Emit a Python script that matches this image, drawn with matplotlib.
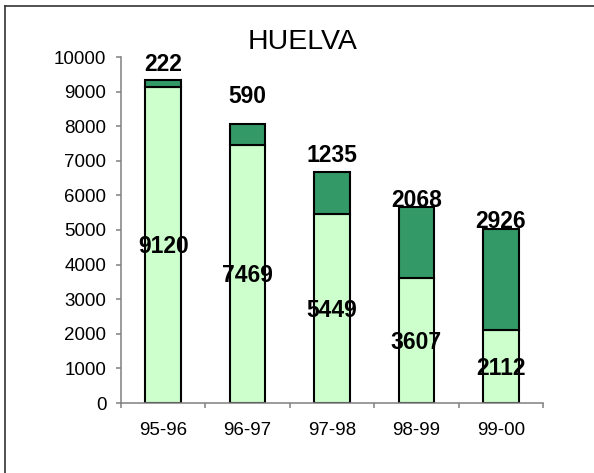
import numpy as np
import matplotlib
matplotlib.use("Agg")
import matplotlib.pyplot as plt
from matplotlib.lines import Line2D

plt.rcParams["font.family"] = ["Liberation Sans", "DejaVu Sans"]

# data
seasons = ["95-96", "96-97", "97-98", "98-99", "99-00"]
lower_vals = [9120, 7469, 5449, 3607, 2112]
upper_vals = [222, 590, 1235, 2068, 2926]
# label lift above bar top (points)
upper_label_lift = [6.5, 15, 7, -0.5, 0.5]

LIGHT = "#CCFFCC"
DARK = "#339966"
AXIS_GREY = "#808080"

fig = plt.figure(figsize=(5.94, 4.73), dpi=100)
ax = fig.add_axes([121 / 594, 1 - 403 / 473, 422 / 594, 346 / 473])

x = np.arange(len(seasons))
lower = np.array(lower_vals)
upper = np.array(upper_vals)

ax.bar(x, lower, width=0.42, color=LIGHT, edgecolor="black", linewidth=1.5, zorder=2)
ax.bar(x, upper, width=0.42, bottom=lower, color=DARK, edgecolor="black",
       linewidth=1.5, zorder=2)

for xi, lo, up, lift in zip(x, lower, upper, upper_label_lift):
    ax.annotate(str(lo), (xi, lo / 2), xytext=(0, -5.9), textcoords="offset points",
                ha="center", va="baseline", fontsize=16.5, fontweight="bold", zorder=3)
    ax.annotate(str(up), (xi, lo + up), xytext=(0, lift), textcoords="offset points",
                ha="center", va="baseline", fontsize=16.5, fontweight="bold", zorder=3,
                annotation_clip=False)

ax.set_xlim(-0.5, len(seasons) - 0.5)
ax.set_ylim(0, 10000)
ax.set_yticks(np.arange(0, 10001, 1000))
ax.set_xticks(x)
ax.set_xticklabels(seasons)
ax.set_xticks(np.arange(-0.5, len(seasons), 1.0), minor=True)

for side in ["top", "right"]:
    ax.spines[side].set_visible(False)
for side in ["left", "bottom"]:
    ax.spines[side].set_color(AXIS_GREY)
    ax.spines[side].set_linewidth(1.1)

ax.tick_params(axis="y", direction="out", length=3.6, width=1.1, color=AXIS_GREY,
               labelsize=13.5, pad=7)
ax.tick_params(axis="x", which="major", length=0, labelsize=13.5, pad=14)
ax.tick_params(axis="x", which="minor", direction="out", length=3.6, width=1.1,
               color=AXIS_GREY)

fig.text(0.51, 1 - 49 / 473, "HUELVA", ha="center", va="baseline", fontsize=20.5)

# chart-area frame (left and top edges visible in the crop)
fig.add_artist(Line2D([5 / 594, 5 / 594], [0, 1 - 6 / 473], transform=fig.transFigure,
                      color="#333333", linewidth=1.2))
fig.add_artist(Line2D([5 / 594, 1], [1 - 6 / 473, 1 - 6 / 473], transform=fig.transFigure,
                      color="#333333", linewidth=1.2))

fig.savefig("out.png", dpi=100)
